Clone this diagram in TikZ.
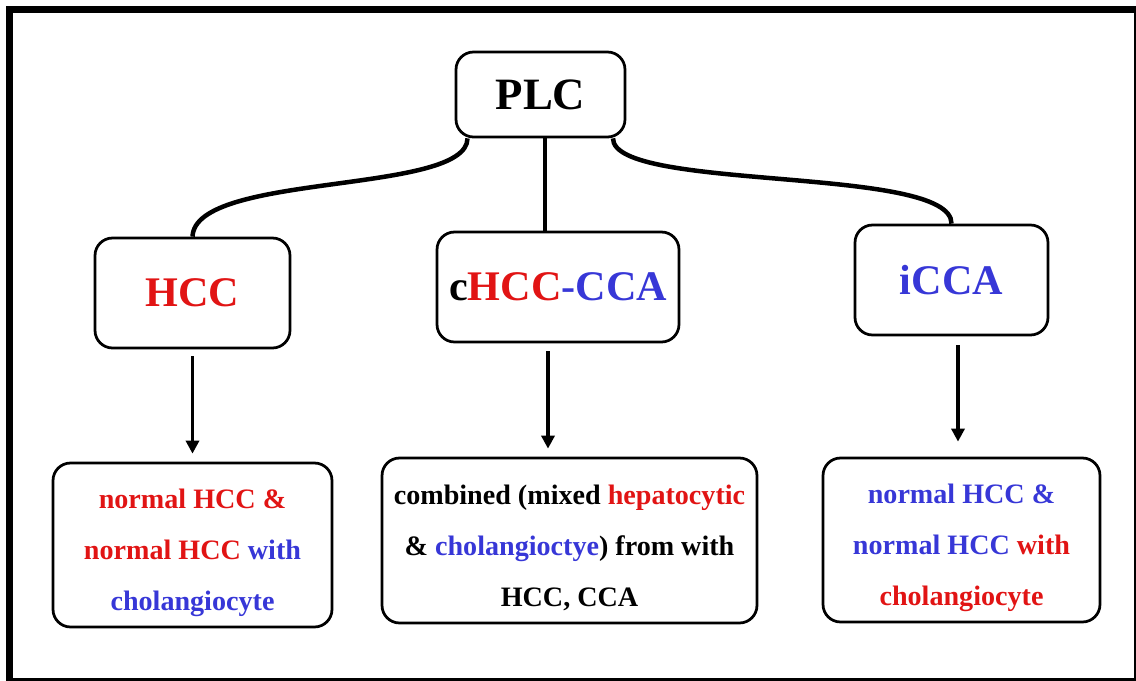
\documentclass[tikz,border=0pt]{standalone}
\usepackage{fontspec}
\setmainfont{Liberation Serif}
\usetikzlibrary{arrows.meta}
\definecolor{hred}{RGB}{225,20,20}
\definecolor{hblue}{RGB}{55,55,215}
\newcommand{\toppad}{\rule{0pt}{20pt}}
\begin{document}
\begin{tikzpicture}[x=0.02cm,y=-0.02cm,
		box/.style={draw,line width=0.055cm,rounded corners=0.35cm,align=center},
		title/.style={font=\bfseries\fontsize{24}{28}\selectfont},
		note/.style={font=\bfseries\fontsize{16}{29}\selectfont},
		link/.style={line width=0.09cm},
		arr/.style={line width=0.07cm,-{Triangle[length=0.26cm,width=0.26cm]}}]
		\clip (0,0) rectangle (1136,680);
		\useasboundingbox (0,0) rectangle (1136,680);
		\draw [line width=0.14cm](9.5,9.5) rectangle (1137,681);
		
		\node [box,minimum width=3.38cm,minimum height=1.7cm,font=\bfseries\fontsize{25.5}{30}\selectfont](plc) at (540.5,94.5) {PLC};
		\node [box,title,minimum width=3.9cm,minimum height=2.2cm](hcc) at (192.5,293) {\textcolor{hred}{HCC}};
		\node [box,title,minimum width=4.84cm,minimum height=2.2cm](mix) at (558,287) {c\textcolor{hred}{HCC}\textcolor{hblue}{-CCA}};
		\node [box,title,minimum width=3.86cm,minimum height=2.2cm](icca) at (951.5,280) {\textcolor{hblue}{iCCA}};
		
		\node [box,note,minimum width=5.58cm,minimum height=3.28cm](hccnote) at (192.5,545) {\toppad\textcolor{hred}{normal HCC \&}\\\textcolor{hred}{normal HCC} \textcolor{hblue}{with}\\\textcolor{hblue}{cholangiocyte}};
		\node [box,note,minimum width=7.5cm,minimum height=3.3cm](mixnote) at (569.5,540.5) {\toppad combined (mixed \textcolor{hred}{hepatocytic}\\\& \textcolor{hblue}{cholangioctye}) from with\\HCC, CCA};
		\node [box,note,minimum width=5.54cm,minimum height=3.28cm](iccanote) at (961.5,540) {\toppad\textcolor{hblue}{normal HCC \&}\\\textcolor{hblue}{normal HCC} \textcolor{hred}{with}\\\textcolor{hred}{cholangiocyte}};
		
		\draw [link]([xshift=-1.46cm]plc.south) .. controls (467,195) and (195,172) .. (hcc.north);
		\draw [link]([xshift=0.09cm]plc.south) -- ([xshift=0.09cm]plc.south |- mix.north);
		\draw [link]([xshift=1.45cm]plc.south) .. controls (613,192) and (952,165) .. (icca.north);
		
		\draw [arr,shorten <=0.14cm,shorten >=0.16cm](hcc.south) -- (hccnote.north);
		\draw [arr,shorten <=0.16cm,shorten >=0.16cm]([xshift=-0.2cm]mix.south) -- ([xshift=-0.2cm]mix.south |- mixnote.north);
		\draw [arr,shorten <=0.18cm,shorten >=0.3cm]([xshift=0.13cm]icca.south) -- ([xshift=0.13cm]icca.south |- iccanote.north);
		
		\end{tikzpicture}
\end{document}
